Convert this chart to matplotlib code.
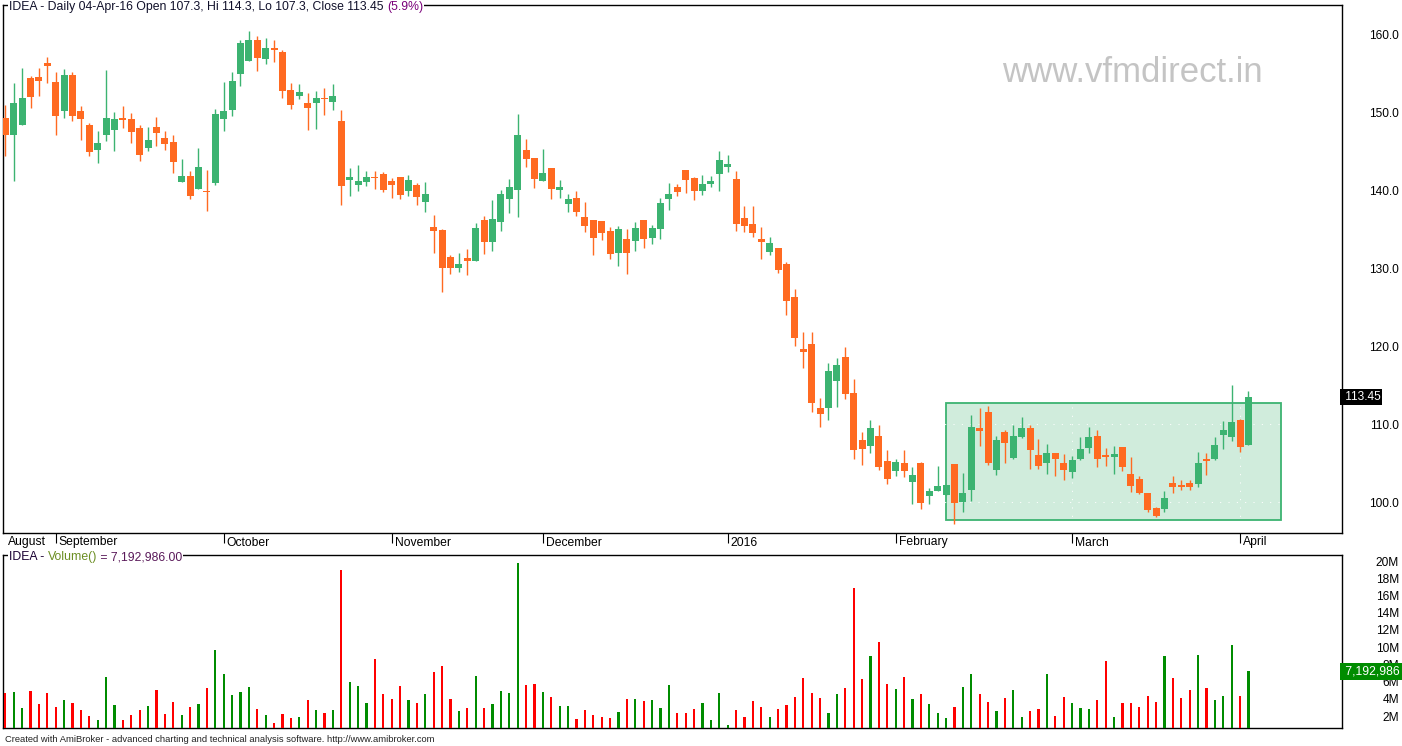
import matplotlib
matplotlib.use("Agg")
import matplotlib.pyplot as plt
import matplotlib.transforms as mtransforms
from matplotlib.patches import Rectangle
import numpy as np

plt.rcParams['font.family'] = ['Liberation Sans', 'DejaVu Sans']

# ---------------- data (IDEA daily, 24-Aug-2015 .. 04-Apr-2016) ----------------
opens = [149.23, 147.05, 148.33, 154.35, 154.48, 156.28, 153.84, 150.13, 154.74, 150.13,
         148.33, 145.12, 147.05, 147.69, 149.23, 149.10, 147.94, 145.38, 148.07, 146.66,
         146.15, 141.02, 141.79, 140.12, 139.90, 140.90, 149.10, 150.25, 154.87, 156.53,
         159.23, 156.79, 158.20, 157.69, 152.82, 152.05, 151.15, 151.15, 151.79, 151.28,
         148.84, 141.28, 140.64, 141.02, 141.66, 142.05, 141.15, 141.66, 139.87, 140.64,
         138.46, 135.25, 134.87, 131.41, 130.00, 131.28, 130.90, 136.16, 133.33, 135.90,
         138.85, 140.00, 145.13, 144.10, 141.16, 142.82, 140.00, 138.21, 138.97, 136.54,
         136.16, 136.03, 134.75, 131.92, 133.72, 133.46, 136.16, 133.85, 135.00, 138.85,
         140.39, 142.57, 141.54, 139.87, 140.77, 142.05, 142.95, 141.41, 136.41, 135.64,
         133.72, 132.05, 132.56, 130.51, 126.28, 119.62, 120.26, 112.05, 112.05, 115.51,
         118.59, 113.97, 107.95, 107.18, 108.46, 105.26, 103.97, 105.00, 102.56, 105.00,
         100.77, 101.41, 100.90, 104.87, 100.00, 101.54, 109.49, 111.54, 104.10, 108.97,
         105.64, 108.33, 109.49, 106.03, 105.00, 106.28, 105.00, 103.85, 105.51, 106.92,
         108.46, 106.03, 105.77, 107.05, 103.59, 102.95, 101.15, 99.23, 99.10, 102.44,
         102.18, 102.44, 102.31, 105.51, 105.51, 108.59, 108.33, 110.51, 107.30]
highs = [150.90, 153.71, 155.64, 154.60, 155.64, 157.05, 155.12, 155.50, 155.12, 150.76,
         148.59, 147.56, 155.38, 150.00, 150.76, 149.87, 148.33, 148.07, 149.35, 147.56,
         147.05, 143.97, 142.43, 145.38, 142.56, 150.38, 153.84, 155.12, 159.23, 160.38,
         159.74, 159.48, 159.23, 157.94, 153.71, 153.59, 152.43, 152.69, 153.07, 153.59,
         150.25, 142.82, 143.20, 142.43, 142.43, 142.30, 141.53, 141.66, 141.92, 140.89,
         141.02, 136.79, 135.00, 131.66, 131.92, 132.44, 135.77, 136.67, 138.72, 140.00,
         141.41, 149.74, 146.54, 144.10, 145.26, 142.82, 141.28, 139.49, 139.87, 138.46,
         136.16, 136.03, 135.26, 135.39, 135.00, 135.90, 136.16, 135.52, 138.97, 140.90,
         140.77, 142.57, 141.67, 141.93, 141.80, 145.00, 144.49, 142.44, 137.95, 137.95,
         135.26, 133.97, 132.56, 130.77, 127.31, 121.79, 121.79, 113.33, 117.82, 118.46,
         119.87, 115.77, 108.97, 110.51, 109.87, 106.67, 105.51, 106.67, 104.49, 105.13,
         101.80, 104.62, 102.18, 104.87, 103.72, 111.15, 112.05, 112.31, 108.46, 109.23,
         109.87, 110.90, 109.87, 108.08, 107.44, 106.28, 106.15, 105.90, 108.33, 109.62,
         109.23, 106.92, 107.18, 107.05, 105.77, 103.33, 101.15, 99.36, 101.41, 103.33,
         102.82, 102.82, 106.41, 106.28, 108.33, 110.38, 115.00, 110.64, 114.30]
lows = [144.35, 141.15, 148.33, 150.51, 152.05, 153.71, 147.05, 149.23, 148.84, 146.40,
        144.35, 143.46, 146.28, 145.00, 147.94, 146.02, 143.71, 145.00, 145.64, 145.12,
        142.17, 141.02, 138.84, 140.12, 137.30, 140.64, 147.56, 149.48, 153.33, 156.53,
        155.25, 156.15, 156.40, 151.79, 150.38, 151.66, 147.69, 147.82, 149.61, 150.25,
        138.07, 139.23, 139.87, 140.51, 140.12, 139.74, 138.97, 138.84, 139.23, 138.07,
        137.20, 131.92, 126.92, 129.23, 129.48, 129.10, 130.90, 131.80, 132.18, 134.75,
        137.05, 136.54, 142.95, 140.26, 141.16, 138.85, 138.97, 137.18, 136.67, 134.62,
        131.67, 133.59, 131.16, 130.26, 129.23, 132.18, 132.57, 133.08, 133.72, 137.44,
        139.23, 139.62, 138.72, 139.36, 140.39, 139.87, 142.31, 134.75, 134.62, 133.97,
        131.15, 131.67, 129.36, 123.97, 120.00, 117.18, 111.54, 109.62, 110.51, 112.18,
        113.21, 105.51, 104.74, 106.28, 104.10, 102.31, 103.33, 103.21, 99.74, 99.10,
        99.74, 101.41, 100.90, 97.18, 98.72, 100.13, 107.18, 104.74, 103.46, 105.00,
        105.51, 108.20, 104.23, 104.23, 103.59, 103.33, 102.82, 103.08, 105.38, 106.28,
        104.49, 104.62, 103.59, 103.97, 101.28, 101.03, 98.72, 98.08, 98.72, 101.15,
        101.54, 101.54, 101.92, 103.46, 105.38, 106.79, 107.82, 106.41, 107.30]
closes = [147.05, 151.15, 151.79, 151.92, 153.97, 155.90, 149.48, 154.74, 149.48, 149.10,
          144.87, 146.02, 149.23, 149.10, 148.97, 147.43, 144.48, 146.40, 147.30, 145.89,
          143.59, 141.79, 139.23, 142.94, 139.80, 149.74, 150.13, 153.97, 158.84, 159.23,
          156.92, 158.20, 157.94, 152.69, 150.89, 152.56, 150.51, 151.79, 151.70, 152.05,
          140.51, 141.66, 141.15, 141.66, 141.58, 140.00, 140.64, 139.35, 141.28, 139.10,
          139.48, 134.74, 130.00, 130.00, 130.51, 130.90, 135.13, 133.33, 136.28, 139.49,
          140.39, 147.05, 143.97, 141.41, 142.18, 140.13, 140.39, 138.85, 137.18, 135.39,
          133.85, 134.49, 131.80, 135.00, 131.92, 135.13, 133.72, 135.13, 138.33, 139.49,
          139.74, 141.28, 139.87, 140.77, 141.16, 143.85, 143.33, 135.64, 135.38, 134.49,
          133.33, 133.21, 129.74, 125.77, 121.03, 119.23, 112.69, 111.28, 116.79, 117.56,
          113.85, 106.67, 106.79, 109.49, 104.49, 102.95, 105.13, 103.97, 103.46, 99.87,
          101.41, 102.05, 102.18, 99.87, 101.15, 109.62, 109.10, 105.00, 107.95, 107.56,
          108.46, 109.49, 106.67, 104.62, 106.28, 105.51, 104.10, 105.38, 106.79, 108.33,
          105.51, 105.77, 106.15, 104.49, 102.05, 101.15, 98.97, 98.21, 100.51, 101.92,
          101.92, 101.92, 105.00, 105.26, 107.31, 109.23, 110.26, 107.15, 113.45]
volume_m = [4.67, 4.79, 2.93, 4.90, 3.39, 4.67, 3.05, 3.86, 3.51, 2.70,
            2.00, 1.54, 6.53, 3.28, 1.54, 2.12, 2.70, 3.16, 5.02, 2.23,
            3.63, 2.12, 3.05, 3.39, 5.25, 9.67, 6.88, 4.44, 4.79, 5.37,
            2.81, 2.12, 1.19, 2.23, 1.77, 1.88, 3.86, 2.70, 2.35, 2.70,
            18.96, 5.95, 5.49, 3.51, 8.62, 4.56, 3.98, 5.49, 3.86, 3.51,
            4.56, 7.11, 7.81, 3.98, 2.58, 2.93, 6.65, 2.93, 3.39, 4.90,
            4.67, 19.77, 5.60, 5.72, 4.79, 4.21, 3.16, 3.16, 1.65, 2.70,
            2.12, 1.88, 1.77, 2.47, 3.98, 3.98, 3.74, 3.86, 2.93, 5.60,
            2.35, 2.35, 2.81, 3.51, 1.54, 4.67, 0.96, 2.70, 1.88, 3.74,
            3.05, 1.88, 2.81, 3.28, 4.21, 6.41, 4.67, 4.09, 2.35, 4.56,
            5.25, 16.87, 6.30, 8.97, 10.60, 5.72, 5.14, 6.53, 3.98, 4.56,
            3.39, 2.35, 1.77, 3.05, 5.37, 6.88, 4.56, 3.63, 2.58, 4.09,
            5.02, 1.88, 2.58, 2.81, 6.88, 2.00, 4.21, 3.51, 2.93, 2.81,
            3.86, 8.39, 1.88, 3.51, 3.51, 3.05, 4.32, 3.63, 8.97, 6.41,
            4.09, 5.02, 9.09, 5.25, 3.86, 4.32, 10.25, 4.32, 7.192986]

month_labels = ['August', 'September', 'October', 'November', 'December',
                '2016', 'February', 'March', 'April']
month_start = [0, 6, 26, 46, 64, 86, 106, 127, 147]
price_ticks = [100, 110, 120, 130, 140, 150, 160]
vol_ticks_m = [2, 4, 6, 8, 10, 12, 14, 16, 18, 20]
vol_tick_labels = ['2M', '4M', '6M', '8M', '10M', '12M', '14M', '16M', '18M', '20M']

# highlighted consolidation zone (annotation)
zone_x = (112.0, 151.9)
zone_y = (97.73, 112.72)

# ---------------- styling ----------------
GREEN = '#3cb371'
ORANGE = '#ff6a21'
VRED = '#ff0000'
VGREEN = '#008c00'

W, H = 1402, 746
fig = plt.figure(figsize=(W / 100, H / 100), dpi=100)
fig.patch.set_facecolor('white')


def rect(l, t, r, b):
    return [l / W, 1 - b / H, (r - l) / W, (b - t) / H]


axp = fig.add_axes(rect(3, 5, 1341.7, 533))
axv = fig.add_axes(rect(3, 555.3, 1341.7, 728.3))

o = np.array(opens)
h = np.array(highs)
l = np.array(lows)
c = np.array(closes)
v = np.array(volume_m) * 1e6
idx = np.arange(len(o))
up = c >= o
ccol = np.where(up, GREEN, ORANGE)
vcol = np.where(up, VGREEN, VRED)

XL = (-0.274, 159.1)

# ---- price panel ----
axp.set_xlim(*XL)
axp.set_ylim(96.07, 163.72)
axp.add_patch(Rectangle((zone_x[0], zone_y[0]), zone_x[1] - zone_x[0], zone_y[1] - zone_y[0],
                        facecolor='#d0ecdc', edgecolor=GREEN, linewidth=1.3, zorder=1))
axp.vlines(idx, l, h, colors=ccol, linewidth=1.0, zorder=3)
body_h = np.maximum(np.abs(c - o), 0.2)
body_b = np.minimum(o, c) - (body_h - np.abs(c - o)) / 2
axp.bar(idx, body_h, bottom=body_b, width=0.83, color=ccol, linewidth=0, zorder=4)

axp.set_axisbelow('line')
axp.set_yticks(price_ticks)
axp.set_yticklabels(['%.1f' % t for t in price_ticks])
axp.yaxis.tick_right()
axp.tick_params(axis='y', length=0, pad=41.3, labelsize=8.6, labelcolor='black')
for t in axp.get_yticklabels():
    t.set_horizontalalignment('right')
axp.set_xticks(month_start[1:])
axp.tick_params(axis='x', length=7, width=0.8, direction='out', labelbottom=False)
axp.grid(True, color='white', linestyle=(0, (1, 7)), linewidth=0.75)
for s in axp.spines.values():
    s.set_linewidth(1.0)
    s.set_color('black')

trans = mtransforms.blended_transform_factory(axp.transData, axp.transAxes)
for lab, pos in zip(month_labels, month_start):
    tt = mtransforms.offset_copy(trans, fig=fig, x=3 * 0.72, y=-3.5 * 0.72, units='points')
    axp.text(pos, 0, lab, transform=tt, ha='left', va='top', fontsize=8.7, color='black',
             clip_on=False)

# last price marker
tr_r = mtransforms.blended_transform_factory(axp.transAxes, axp.transData)
axp.text(1.0, c[-1], ' %.2f' % c[-1], transform=tr_r, ha='left', va='center',
         fontsize=8.6, color='white', clip_on=False,
         bbox=dict(facecolor='black', edgecolor='none', pad=1.4))

# title (two colours)
fig.canvas.draw()
renderer = fig.canvas.get_renderer()
t1 = fig.text(9 / W, 1 - 7 / H, 'IDEA - Daily 04-Apr-16 Open 107.3, Hi 114.3, Lo 107.3, Close 113.45 ',
              fontsize=8.8, color='#10102a', ha='left', va='center',
              bbox=dict(facecolor='white', edgecolor='none', pad=1.0), zorder=10)
bb = t1.get_window_extent(renderer=renderer)
fig.text(bb.x1 / W, 1 - 7 / H, '(5.9%)', fontsize=8.8, color='#7a007a', ha='left', va='center',
         bbox=dict(facecolor='white', edgecolor='none', pad=1.0), zorder=10)

# watermark
fig.text(1132 / W, 1 - 73 / H, 'www.vfmdirect.in', fontsize=25, color='#c4c4c4',
         ha='center', va='center')

# ---- volume panel ----
axv.set_xlim(*XL)
axv.set_ylim(0.58e6, 20.67e6)
axv.bar(idx, v, width=0.26, color=vcol, linewidth=0, zorder=3)
axv.set_xticks([])
axv.set_yticks([t * 1e6 for t in vol_ticks_m])
axv.set_yticklabels(vol_tick_labels)
axv.yaxis.tick_right()
axv.tick_params(axis='y', length=0, pad=41.3, labelsize=8.6, labelcolor='black')
for t in axv.get_yticklabels():
    t.set_horizontalalignment('right')
for s in axv.spines.values():
    s.set_linewidth(1.0)
    s.set_color('black')

tr_v = mtransforms.blended_transform_factory(axv.transAxes, axv.transData)
axv.text(1.0, v[-1], ' {:,.0f}  '.format(v[-1]), transform=tr_v, ha='left', va='center',
         fontsize=8.8, color='white', clip_on=False,
         bbox=dict(facecolor=VGREEN, edgecolor='none', pad=1.6))

# volume title (multi-coloured)
parts = [('IDEA - ', '#1a0033'), ('Volume()', '#6b8e23'), (' = {:,.2f}'.format(v[-1]), '#5a1a5a')]
xcur = 9
for txt, col in parts:
    tobj = fig.text(xcur / W, 1 - 557 / H, txt, fontsize=8.8, color=col, ha='left', va='center',
                    bbox=dict(facecolor='white', edgecolor='none', pad=0.8), zorder=10)
    ext = tobj.get_window_extent(renderer=renderer)
    xcur = ext.x1

# credit line
fig.text(5 / W, 1 - 739 / H,
         'Created with AmiBroker - advanced charting and technical analysis software. http://www.amibroker.com',
         fontsize=6.75, color='#222222', ha='left', va='center')

fig.savefig('out.png', dpi=100, facecolor='white')
